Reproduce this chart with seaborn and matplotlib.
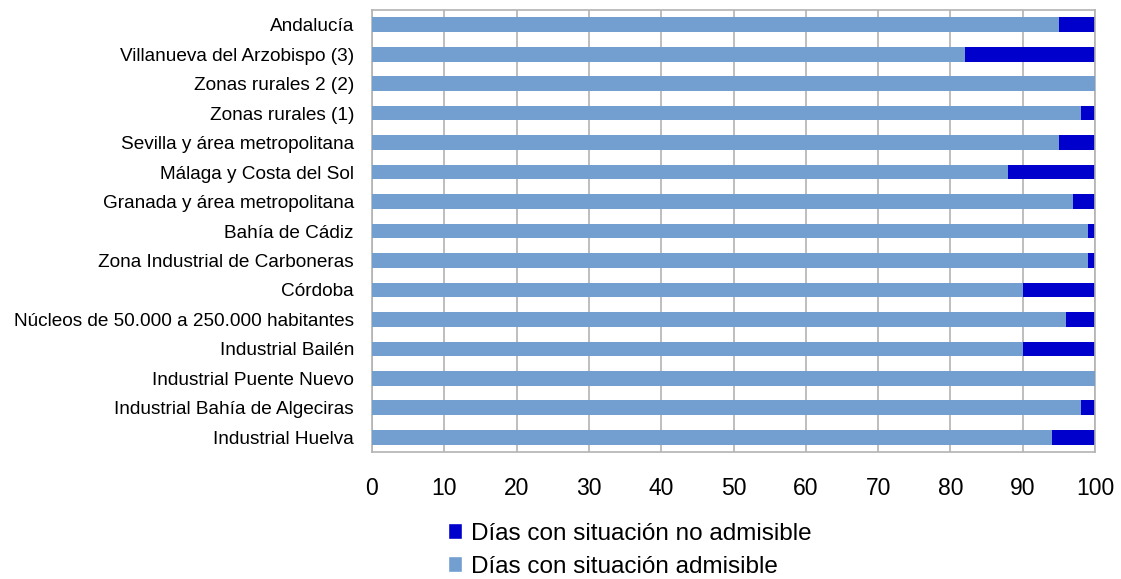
import pandas as pd
import matplotlib
matplotlib.use("Agg")
import matplotlib.pyplot as plt
import seaborn as sns
from matplotlib.patches import Patch

zonas = [
    "Andalucía",
    "Villanueva del Arzobispo (3)",
    "Zonas rurales 2 (2)",
    "Zonas rurales (1)",
    "Sevilla y área metropolitana",
    "Málaga y Costa del Sol",
    "Granada y área metropolitana",
    "Bahía de Cádiz",
    "Zona Industrial de Carboneras",
    "Córdoba",
    "Núcleos de 50.000 a 250.000 habitantes",
    "Industrial Bailén",
    "Industrial Puente Nuevo",
    "Industrial Bahía de Algeciras",
    "Industrial Huelva",
]
admisible = [95, 82, 100, 98, 95, 88, 97, 99, 99, 90, 96, 90, 100, 98, 94]
no_admisible = [5, 18, 0, 2, 5, 12, 3, 1, 1, 10, 4, 10, 0, 2, 6]

df = pd.DataFrame({"zona": zonas, "admisible": admisible, "no_admisible": no_admisible})
df["total"] = df["admisible"] + df["no_admisible"]

sns.set_style("white")
plt.rcParams["font.family"] = ["Liberation Sans", "DejaVu Sans"]

col_no = "#0000cc"
col_si = "#729fcf"
gris = "#b3b3b3"

fig, ax = plt.subplots(figsize=(11.21, 5.79), dpi=100)
fig.subplots_adjust(left=372 / 1121, right=1095 / 1121, top=1 - 10 / 579, bottom=1 - 452 / 579)

# total bar in dark blue, admissible part drawn over it
sns.barplot(data=df, x="total", y="zona", color=col_no, width=0.5, saturation=1,
            linewidth=0, edgecolor="none", ax=ax, zorder=2)
sns.barplot(data=df, x="admisible", y="zona", color=col_si, width=0.5, saturation=1,
            linewidth=0, edgecolor="none", ax=ax, zorder=3)

ax.set_xlim(0, 100)
ax.set_ylim(len(zonas) - 0.5, -0.5)
ax.set_xticks(range(0, 101, 10))
ax.set_xlabel("")
ax.set_ylabel("")
ax.grid(axis="x", color=gris, linewidth=1.2, zorder=0)
ax.set_axisbelow(True)
for s in ax.spines.values():
    s.set_color(gris)
    s.set_linewidth(1.2)

ax.tick_params(axis="x", length=8, width=1.2, color=gris, labelsize=16.5, pad=10, labelcolor="#000000")
ax.tick_params(axis="y", which="major", length=0, labelsize=13.7, pad=13, labelcolor="#000000")
ax.set_yticks([i - 0.5 for i in range(len(zonas) + 1)], minor=True)
ax.tick_params(axis="y", which="minor", length=5, width=1.2, color=gris)

handles = [Patch(facecolor=col_no, label="Días con situación no admisible"),
           Patch(facecolor=col_si, label="Días con situación admisible")]
fig.legend(handles=handles, loc="upper left", bbox_to_anchor=(438 / 1121, 1 - 513 / 579),
           frameon=False, fontsize=17.5, handlelength=0.6, handleheight=0.6,
           handletextpad=0.35, labelspacing=0.45, borderaxespad=0, labelcolor="#000000")

fig.savefig("out.png", dpi=100)
